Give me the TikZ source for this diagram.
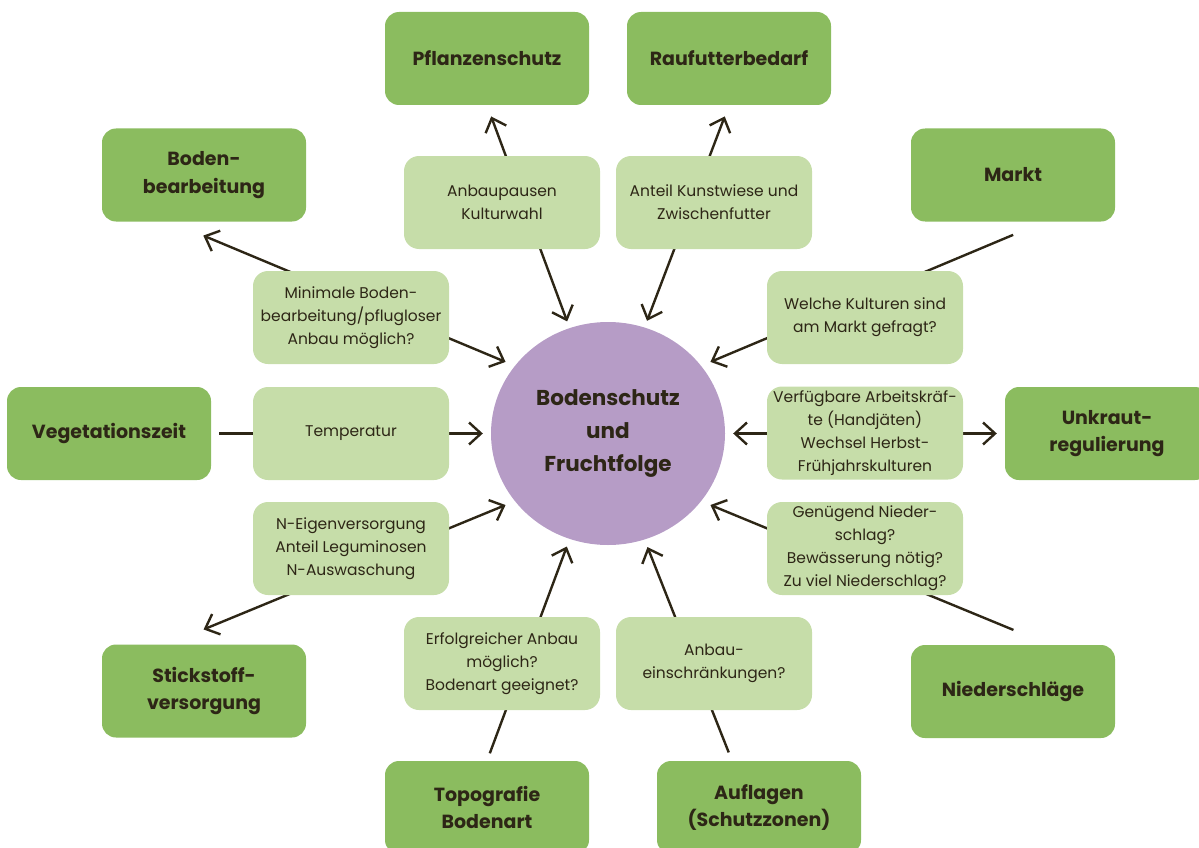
\documentclass[tikz,border=0pt]{standalone}
\usepackage{fontspec}
\setmainfont{Poppins}
\usepackage{xcolor}
\usetikzlibrary{shapes.geometric,arrows.meta}

\definecolor{dunkelgruen}{HTML}{8BBC5F}
\definecolor{hellgruen}{HTML}{C6DDA9}
\definecolor{lila}{HTML}{B69CC6}
\definecolor{schrift}{HTML}{2D2616}

\tikzset{
	thema/.style={rectangle, rounded corners=14pt, fill=dunkelgruen, minimum width=204pt, minimum height=93pt, inner sep=2pt, align=center, text=schrift, font=\fontsize{19}{27.5}\selectfont\bfseries},
	frage/.style={rectangle, rounded corners=15pt, fill=hellgruen, minimum width=196pt, minimum height=93pt, inner sep=1pt, align=center, text=schrift, font=\fontsize{15.5}{23}\selectfont},
	speiche/.style={draw=schrift, line width=2.4pt},
}

\begin{document}
\begin{tikzpicture}[x=1pt, y=-1pt, >={Straight Barb[length=12pt,width=22pt]}]
	\useasboundingbox (0,0) rectangle (1199,848);

	\node[ellipse, fill=lila, minimum width=234pt, minimum height=223pt, inner sep=0pt, align=center, text=schrift, font=\fontsize{21.5}{33}\selectfont\bfseries] (mitte) at (608,433.5) {Bodenschutz\\und\\Fruchtfolge};

	\node[thema] (pflanzen) at (487,58.5) {Pflanzenschutz};
	\node[thema] (raufutter) at (729,58.5) {Raufutterbedarf};
	\node[thema] (boden) at (204,175) {Boden-\\bearbeitung};
	\node[thema] (markt) at (1013,175) {Markt};
	\node[thema] (vegetation) at (109,433.5) {Vegetationszeit};
	\node[thema] (unkraut) at (1107,433.5) {Unkraut-\\regulierung};
	\node[thema] (stickstoff) at (204,691) {Stickstoff-\\versorgung};
	\node[thema] (niederschlag) at (1013,691.5) {Niederschläge};
	\node[thema] (topografie) at (487,807.5) {Topografie\\Bodenart};
	\node[thema] (auflagen) at (759,807.5) {Auflagen\\(Schutzzonen)};

	% Speichen laufen unter den hellen Kaesten durch
	\draw[speiche, <->, shorten <=12pt, shorten >=7pt] (pflanzen.south) -- (mitte.110);
	\draw[speiche, <->, shorten <=12pt, shorten >=7pt] (raufutter.south) -- (mitte.71);
	\draw[speiche, <->, shorten <=36pt, shorten >=10pt] (boden.-126) -- (mitte.144);
	\draw[speiche, ->, shorten <=34pt, shorten >=10pt] (markt.-56.5) -- (mitte.36);
	\draw[speiche, ->, shorten <=8pt, shorten >=8pt] (vegetation.east) -- (mitte.west);
	\draw[speiche, <->, shorten <=8pt, shorten >=8pt] (unkraut.west) -- (mitte.east);
	\draw[speiche, <->, shorten <=39pt, shorten >=10pt] (stickstoff.128) -- (mitte.216);
	\draw[speiche, ->, shorten <=39pt, shorten >=10pt] (niederschlag.52) -- (mitte.-36);
	\draw[speiche, ->, shorten <=8pt, shorten >=8pt] (topografie.north) -- (mitte.250);
	\draw[speiche, ->, shorten <=9pt, shorten >=8pt] (auflagen.120) -- (mitte.-71);

	\node[frage] (pausen) at (502,202.5) {Anbaupausen\\Kulturwahl};
	\node[frage] (kunstwiese) at (714,202.5) {Anteil Kunstwiese und\\Zwischenfutter};
	\node[frage] (minimal) at (351,317.5) {Minimale Boden-\\bearbeitung/pflugloser\\Anbau möglich?};
	\node[frage] (gefragt) at (865,317.5) {Welche Kulturen sind\\am Markt gefragt?};
	\node[frage] (temperatur) at (351,433.5) {Temperatur};
	\node[frage] (arbeit) at (865,433) {Verfügbare Arbeitskräf-\\te (Handjäten)\\Wechsel Herbst-\\Frühjahrskulturen};
	\node[frage] (versorgung) at (351,548.5) {N-Eigenversorgung\\Anteil Leguminosen\\N-Auswaschung};
	\node[frage] (regen) at (865,548.5) {Genügend Nieder-\\schlag?\\Bewässerung nötig?\\Zu viel Niederschlag?};
	\node[frage] (erfolg) at (502,663.5) {Erfolgreicher Anbau\\möglich?\\Bodenart geeignet?};
	\node[frage] (auflage) at (714,663.5) {Anbau-\\einschränkungen?};
\end{tikzpicture}
\end{document}
